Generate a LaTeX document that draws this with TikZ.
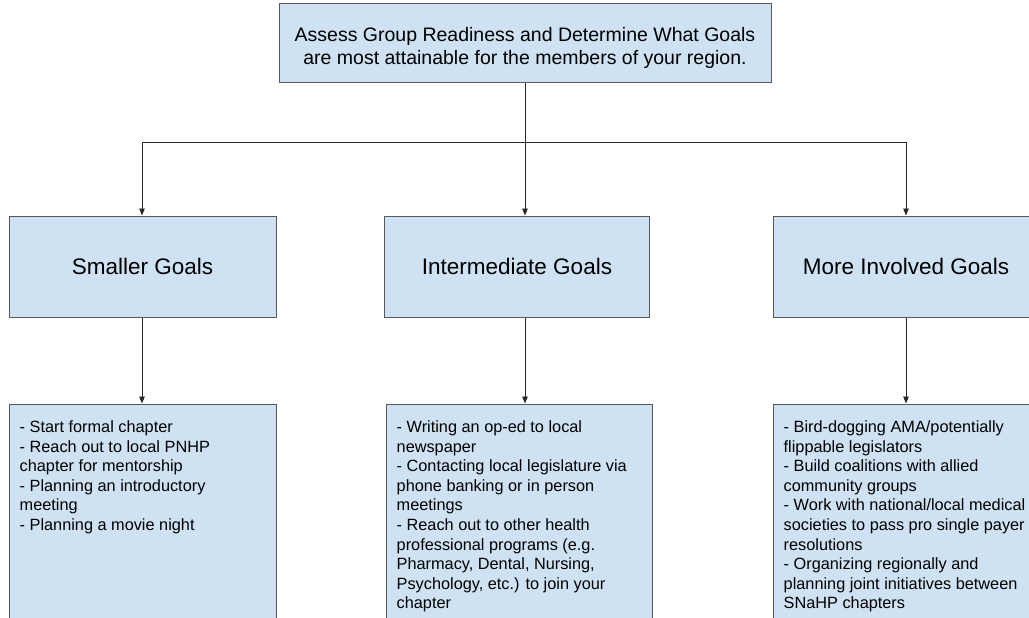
\documentclass[tikz,border=0pt]{standalone}
\usepackage{fontspec}
\setmainfont{Liberation Sans}
\usetikzlibrary{arrows.meta,positioning}

\definecolor{boxblue}{HTML}{CFE2F3}
\definecolor{boxline}{HTML}{595959}

\tikzset{
    goalbox/.style={draw=boxline, fill=boxblue, line width=1pt, inner sep=0pt},
    notes/.style={inner sep=0pt, align=left, anchor=north west,
        font=\fontsize{16.3}{19.6}\selectfont},
    link/.style={draw=black!85, line width=0.8pt},
    flow/.style={link, -{Triangle[length=7pt,width=5.5pt]}},
}

\begin{document}
\begin{tikzpicture}[x=1pt, y=-1pt]
    \useasboundingbox (0,0) rectangle (1029,618);
    \clip (0,0) rectangle (1029,618);

    \node[goalbox, minimum width=492pt, minimum height=79pt] (assess) at (525,43.5) {};
    \node[align=center, inner sep=0pt, font=\fontsize{19.5}{23.5}\selectfont] (assesstext)
        at ([yshift=-4.5pt]assess.center)
        {Assess Group Readiness and Determine What Goals\\are most attainable for the members of your region.};

    % the three kinds of goals
    \node[goalbox, minimum width=267pt, minimum height=101pt, font=\fontsize{22.5}{27}\selectfont] (small) at (142.5,266.5) {Smaller Goals};
    \node[goalbox, minimum width=265pt, minimum height=101pt, font=\fontsize{22.5}{27}\selectfont] (inter) at (517,266.5) {Intermediate Goals};
    \node[goalbox, minimum width=266pt, minimum height=101pt, font=\fontsize{22.5}{27}\selectfont] (involved) at (906,266.5) {More Involved Goals};

    % lists under each goal
    \node[goalbox, minimum width=267pt, minimum height=240pt] (smalllist) at (142.5,524) {};
    \node[goalbox, minimum width=266pt, minimum height=240pt] (interlist) at (519,524) {};
    \node[goalbox, minimum width=267pt, minimum height=240pt] (involvedlist) at (906.5,524) {};

    \node[notes] (smalltext) at ([shift={(11pt,-17pt)}]smalllist.north west)
        {- Start formal chapter\\
         - Reach out to local PNHP\\
         chapter for mentorship\\
         - Planning an introductory\\
         meeting\\
         - Planning a movie night};
    \node[notes] (intertext) at ([shift={(11pt,-17pt)}]interlist.north west)
        {- Writing an op-ed to local\\
         newspaper\\
         - Contacting local legislature via\\
         phone banking or in person\\
         meetings\\
         - Reach out to other health\\
         professional programs (e.g.\\
         Pharmacy, Dental, Nursing,\\
         Psychology, etc.) to join your\\
         chapter};
    \node[notes] (involvedtext) at ([shift={(11pt,-17pt)}]involvedlist.north west)
        {- Bird-dogging AMA/potentially\\
         flippable legislators\\
         - Build coalitions with allied\\
         community groups\\
         - Work with national/local medical\\
         societies to pass pro single payer\\
         resolutions\\
         - Organizing regionally and\\
         planning joint initiatives between\\
         SNaHP chapters};

    % branching connectors
    \coordinate (hub) at (525,142);
    \coordinate (left) at (142,142);
    \coordinate (right) at (906,142);

    \draw[link] (assess.south -| hub) -- (hub);
    \draw[link] (left) -- (right);
    \draw[flow] (left) -- (small.north -| left);
    \draw[flow] (hub) -- (inter.north -| hub);
    \draw[flow] (right) -- (involved.north -| right);

    \draw[flow] (small.south -| left) -- (smalllist.north -| left);
    \draw[flow] (inter.south -| hub) -- (interlist.north -| hub);
    \draw[flow] (involved.south -| right) -- (involvedlist.north -| right);
\end{tikzpicture}
\end{document}
